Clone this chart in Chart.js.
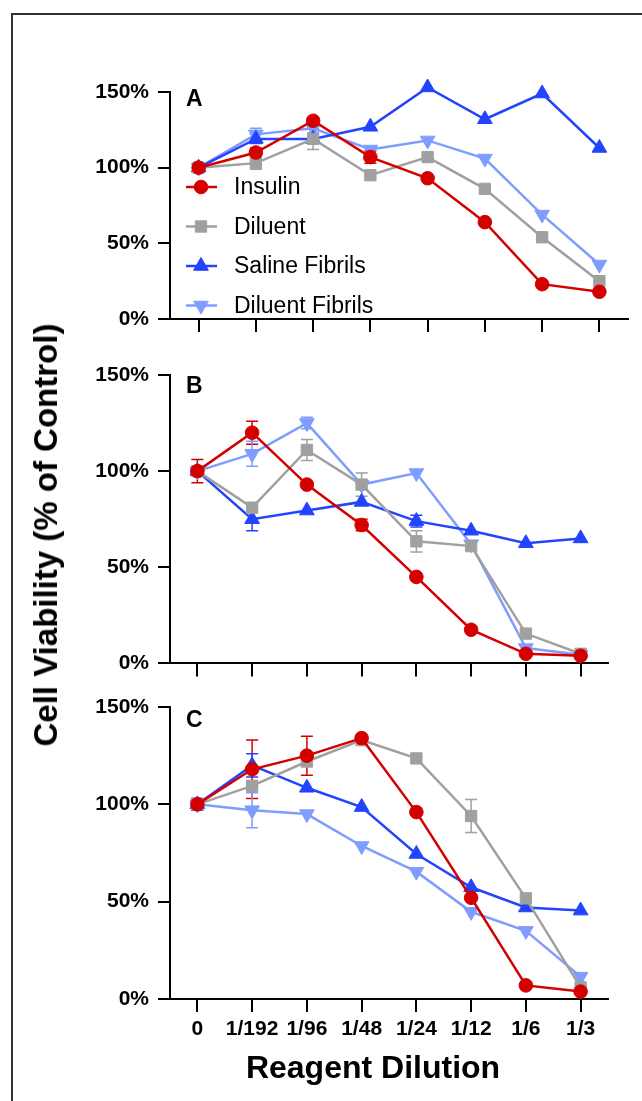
<!DOCTYPE html>
<html><head><meta charset="utf-8">
<script src="https://cdn.jsdelivr.net/npm/chart.js@4.4.1/dist/chart.umd.min.js"></script>
<style>
html,body{margin:0;padding:0;background:#fff;}
body{width:642px;height:1101px;position:relative;overflow:hidden;font-family:"Liberation Sans",Arial,sans-serif;}
canvas{position:absolute;left:0;}
#frame{position:absolute;left:11px;top:13px;width:700px;height:1200px;border-left:2px solid #333;border-top:2px solid #333;}
#ytitle{position:absolute;left:46px;top:535px;transform:translate(-50%,-50%) rotate(-90deg);font-weight:bold;font-size:33px;white-space:nowrap;color:#000;}
#xtitle{position:absolute;left:373px;top:1067px;transform:translate(-50%,-50%);font-weight:bold;font-size:32px;white-space:nowrap;color:#000;}
</style></head>
<body>
<div id="frame"></div>
<canvas id="cA" width="642" height="345" style="top:0px"></canvas>
<canvas id="cB" width="642" height="340" style="top:345px"></canvas>
<canvas id="cC" width="642" height="416" style="top:685px"></canvas>
<div id="ytitle">Cell Viability (% of Control)</div>
<div id="xtitle">Reagent Dilution</div>
<script>
// ---- data ----
const categories = ['0','1/192','1/96','1/48','1/24','1/12','1/6','1/3'];
const seriesNames = ['Insulin','Diluent','Saline Fibrils','Diluent Fibrils'];
const yTicks = [0, 50, 100, 150];

const insulinA = [100, 110, 131, 107, 93, 64, 23, 18];
const diluentA = [100, 103, 119, 95, 107, 86, 54, 25];
const salineA  = [100, 119, 119, 127, 153, 132, 149, 113];
const dilFibA  = [100, 122, 126, 112, 118, 106, 69, 36];
const insulinAErr = [2, 3, 2, 4, 0, 0, 0, 0];
const diluentAErr = [2, 4, 7, 0, 0, 0, 0, 0];
const salineAErr  = [0, 3, 0, 0, 0, 0, 0, 0];
const dilFibAErr  = [0, 4, 3, 0, 0, 0, 0, 0];

const insulinB = [100, 120, 93, 72, 45, 17.5, 5, 4];
const diluentB = [100, 81, 111, 93, 63.5, 61, 15.5, 5];
const salineB  = [100, 75, 79.5, 84, 74, 69, 62.5, 65];
const dilFibB  = [100, 109, 125, 93, 99, 62, 8, 4.5];
const insulinBErr = [6, 6, 0, 3, 0, 0, 0, 0];
const diluentBErr = [0, 0, 5.5, 6, 5.5, 0, 0, 0];
const salineBErr  = [0, 6, 0, 0, 3, 0, 0, 0];
const dilFibBErr  = [0, 6.5, 3, 0, 0, 0, 0, 0];

const insulinC = [100, 118, 125, 134, 96, 52, 7, 3.8];
const diluentC = [100, 109.5, 122, 133, 123.6, 94, 51.7, 6];
const salineC  = [100, 120, 108.5, 98.6, 74.5, 57.4, 47, 45.4];
const dilFibC  = [100, 97, 95, 78.6, 65.4, 44.8, 35, 11.5];
const insulinCErr = [3, 15, 10, 0, 0, 0, 0, 0];
const diluentCErr = [0, 0, 0, 0, 0, 8.5, 0, 0];
const salineCErr  = [3, 6, 0, 0, 0, 0, 0, 0];
const dilFibCErr  = [0, 9, 0, 0, 0, 0, 0, 0];

// ---- styles ----
const colors = ['#d40000', '#a0a0a0', '#2244ff', '#7f9dff'];
const pStyles = ['circle', 'rect', 'triangle', 'triangle'];
const pRot = [0, 0, 0, 180];
const pRad = [6.8, 8, 8.5, 8.5];
const FONT = '"Liberation Sans", Arial, sans-serif';

function makeDatasets(vals, errs) {
  return vals.map((v, i) => ({
    label: seriesNames[i],
    data: v,
    errors: errs[i],
    borderColor: colors[i],
    backgroundColor: colors[i],
    pointBackgroundColor: colors[i],
    pointBorderColor: colors[i],
    pointBorderWidth: 1,
    pointStyle: pStyles[i],
    pointRotation: pRot[i],
    pointRadius: pRad[i],
    pointHoverRadius: pRad[i],
    borderWidth: 2.5,
    tension: 0,
    clip: false
  }));
}

const errorBars = {
  id: 'errorBars',
  beforeDatasetsDraw(chart) {
    const ctx = chart.ctx, xs = chart.scales.x, ys = chart.scales.y;
    chart.data.datasets.forEach((ds) => {
      ctx.save();
      ctx.strokeStyle = ds.borderColor;
      ctx.lineWidth = 1.5;
      ds.data.forEach((v, j) => {
        const e = ds.errors[j];
        if (!e) return;
        const x = xs.getPixelForValue(j);
        const y1 = ys.getPixelForValue(v + e), y2 = ys.getPixelForValue(v - e);
        ctx.beginPath();
        ctx.moveTo(x, y1); ctx.lineTo(x, y2);
        ctx.moveTo(x - 6, y1); ctx.lineTo(x + 6, y1);
        ctx.moveTo(x - 6, y2); ctx.lineTo(x + 6, y2);
        ctx.stroke();
      });
      ctx.restore();
    });
  }
};

const decor = {
  id: 'decor',
  afterDraw(chart, args, opts) {
    const ctx = chart.ctx, a = chart.chartArea;
    ctx.save();
    ctx.fillStyle = '#000';
    ctx.font = 'bold 23px ' + FONT;
    ctx.textBaseline = 'alphabetic';
    ctx.fillText(opts.letter, a.left + 16, a.top + opts.letterDy);
    if (opts.legend) {
      chart.data.datasets.forEach((ds, i) => {
        const y = opts.legendY + i * 39.5;
        ctx.strokeStyle = ds.borderColor;
        ctx.lineWidth = 2.5;
        ctx.beginPath();
        ctx.moveTo(a.left + 16, y); ctx.lineTo(a.left + 47, y);
        ctx.stroke();
        ctx.fillStyle = ds.borderColor;
        ctx.strokeStyle = ds.borderColor;
        ctx.lineWidth = 1;
        Chart.helpers.drawPoint(ctx, {pointStyle: ds.pointStyle, rotation: ds.pointRotation, radius: ds.pointRadius, borderWidth: 1}, a.left + 31, y);
        ctx.fillStyle = '#000';
        ctx.font = '23px ' + FONT;
        ctx.textBaseline = 'middle';
        ctx.fillText(ds.label, a.left + 64, y + 1);
      });
    }
    ctx.restore();
  }
};

function makeChart(id, vals, errs, cfg) {
  return new Chart(document.getElementById(id), {
    type: 'line',
    data: { labels: categories, datasets: makeDatasets(vals, errs) },
    plugins: [errorBars, decor],
    options: {
      responsive: false,
      animation: false,
      devicePixelRatio: 1,
      events: [],
      layout: { padding: { top: cfg.padTop, right: cfg.padRight, left: 0, bottom: 0 } },
      plugins: {
        legend: { display: false },
        tooltip: { enabled: false },
        decor: { letter: cfg.letter, letterDy: cfg.letterDy, legend: cfg.legend, legendY: cfg.legendY }
      },
      scales: {
        x: {
          type: 'category',
          offset: true,
          grid: { display: true, drawOnChartArea: false, drawTicks: true, tickLength: 13, color: '#000', lineWidth: 2, offset: false },
          border: { display: true, color: '#000', width: 2 },
          ticks: { display: cfg.showX, color: '#000', font: { family: FONT, size: 21, weight: 'bold' }, padding: 5, maxRotation: 0, autoSkip: false },
          afterFit(s) { s.height = cfg.xHeight; }
        },
        y: {
          min: 0, max: 150,
          afterBuildTicks(s) { s.ticks = yTicks.map(v => ({ value: v })); },
          grid: { display: true, drawOnChartArea: false, drawTicks: true, tickLength: 12, color: '#000', lineWidth: 2 },
          border: { display: true, color: '#000', width: 2 },
          ticks: { color: '#000', font: { family: FONT, size: 21, weight: 'bold' }, padding: 9, callback: v => v + '%' },
          afterFit(s) { s.width = 170; }
        }
      }
    }
  });
}

makeChart('cA', [insulinA, diluentA, salineA, dilFibA], [insulinAErr, diluentAErr, salineAErr, dilFibAErr],
  { padTop: 92, padRight: 14, xHeight: 26, showX: false, letter: 'A', letterDy: 14, legend: true, legendY: 187 });
makeChart('cB', [insulinB, diluentB, salineB, dilFibB], [insulinBErr, diluentBErr, salineBErr, dilFibBErr],
  { padTop: 30, padRight: 34, xHeight: 19, showX: false, letter: 'B', letterDy: 18, legend: false });
makeChart('cC', [insulinC, diluentC, salineC, dilFibC], [insulinCErr, diluentCErr, salineCErr, dilFibCErr],
  { padTop: 22, padRight: 34, xHeight: 102, showX: true, letter: 'C', letterDy: 20, legend: false });
</script>
</body></html>
